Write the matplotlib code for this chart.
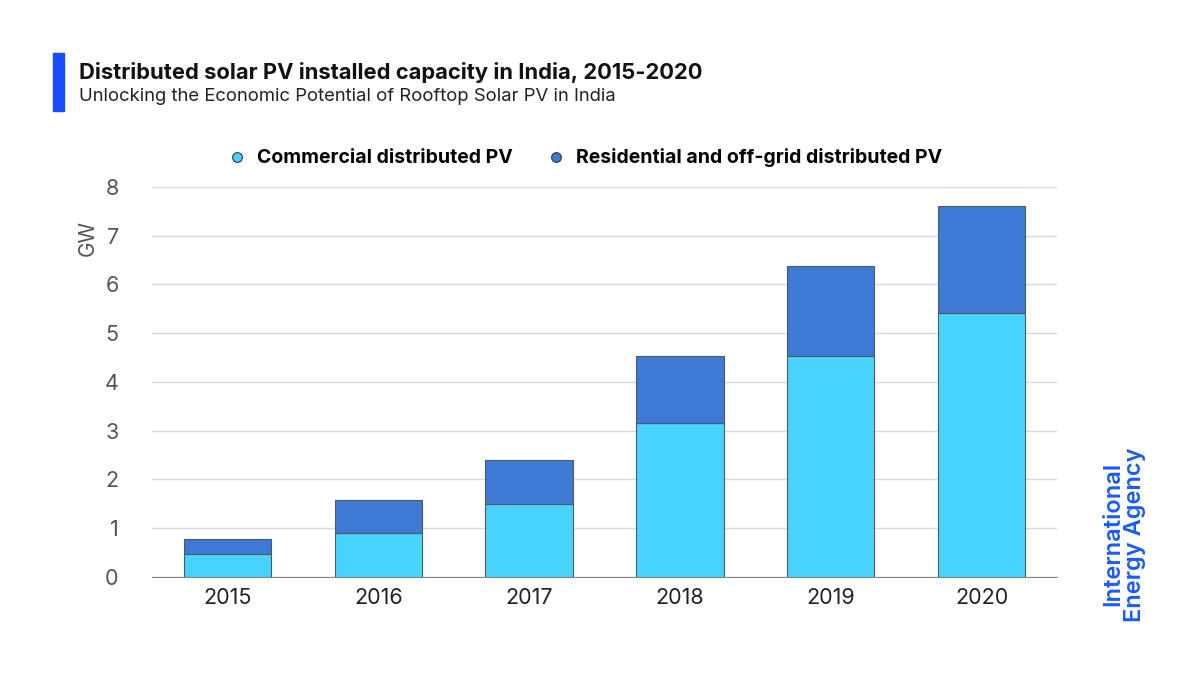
import matplotlib.pyplot as plt
from matplotlib.lines import Line2D
from matplotlib.patches import Rectangle

plt.rcParams['font.family'] = ['Inter', 'DejaVu Sans']

years = ['2015', '2016', '2017', '2018', '2019', '2020']
commercial = [0.47, 0.90, 1.50, 3.16, 4.53, 5.42]
residential = [0.31, 0.68, 0.90, 1.37, 1.85, 2.19]

c_light = '#48D4FF'
c_dark = '#3D79D5'
grey = '#555555'

fig = plt.figure(figsize=(12, 6.75), dpi=100)
ax = fig.add_axes([0.1267, 0.1452, 0.7541, 0.5778])

x = range(len(years))
ax.bar(x, commercial, width=0.58, color=c_light, edgecolor='#4a5a66', linewidth=0.8, zorder=3)
ax.bar(x, residential, width=0.58, bottom=commercial, color=c_dark, edgecolor='#4a5a66',
       linewidth=0.8, zorder=3)

ax.set_xlim(-0.5, 5.5)
ax.set_ylim(0, 8)
ax.set_yticks(range(0, 9))
ax.set_xticks(list(x))
ax.set_xticklabels(years)
ax.grid(axis='y', color='#d9d9d9', linewidth=1, zorder=0)
for s in ['top', 'right', 'left']:
    ax.spines[s].set_visible(False)
ax.spines['bottom'].set_color('#888888')
ax.tick_params(axis='y', length=0, pad=24, labelsize=15.5, labelcolor=grey)
ax.tick_params(axis='x', length=0, pad=8, labelsize=15.5, labelcolor='#222222')
ax.set_ylabel('GW', fontsize=15, color=grey)
ax.yaxis.set_label_coords(-0.06, 0.87)

handles = [
    Line2D([], [], marker='o', linestyle='', markersize=7, markerfacecolor=c_light,
           markeredgecolor='#333333', markeredgewidth=0.8),
    Line2D([], [], marker='o', linestyle='', markersize=7, markerfacecolor=c_dark,
           markeredgecolor='#333333', markeredgewidth=0.8),
]
fig.legend(handles, ['Commercial distributed PV', 'Residential and off-grid distributed PV'],
           loc='center', bbox_to_anchor=(0.483, 0.766), ncol=2, frameon=False,
           prop={'size': 14, 'weight': 'bold'}, handletextpad=0.05, columnspacing=1.2)

# title block
fig.patches.append(Rectangle((0.044, 0.836), 0.009, 0.086, transform=fig.transFigure,
                             color='#1A4BFF', figure=fig))
fig.text(0.066, 0.893, 'Distributed solar PV installed capacity in India, 2015-2020',
         fontsize=15.8, fontweight='bold', color='#111111', va='center')
fig.text(0.066, 0.857, 'Unlocking the Economic Potential of Rooftop Solar PV in India',
         fontsize=13.3, color='#222222', va='center')

fig.text(0.937, 0.079, 'International\nEnergy Agency', rotation=90, fontsize=17,
         color='#1A5AFF', ha='center', va='bottom', linespacing=1.0, fontweight='semibold')

fig.savefig('out.png', dpi=100)
